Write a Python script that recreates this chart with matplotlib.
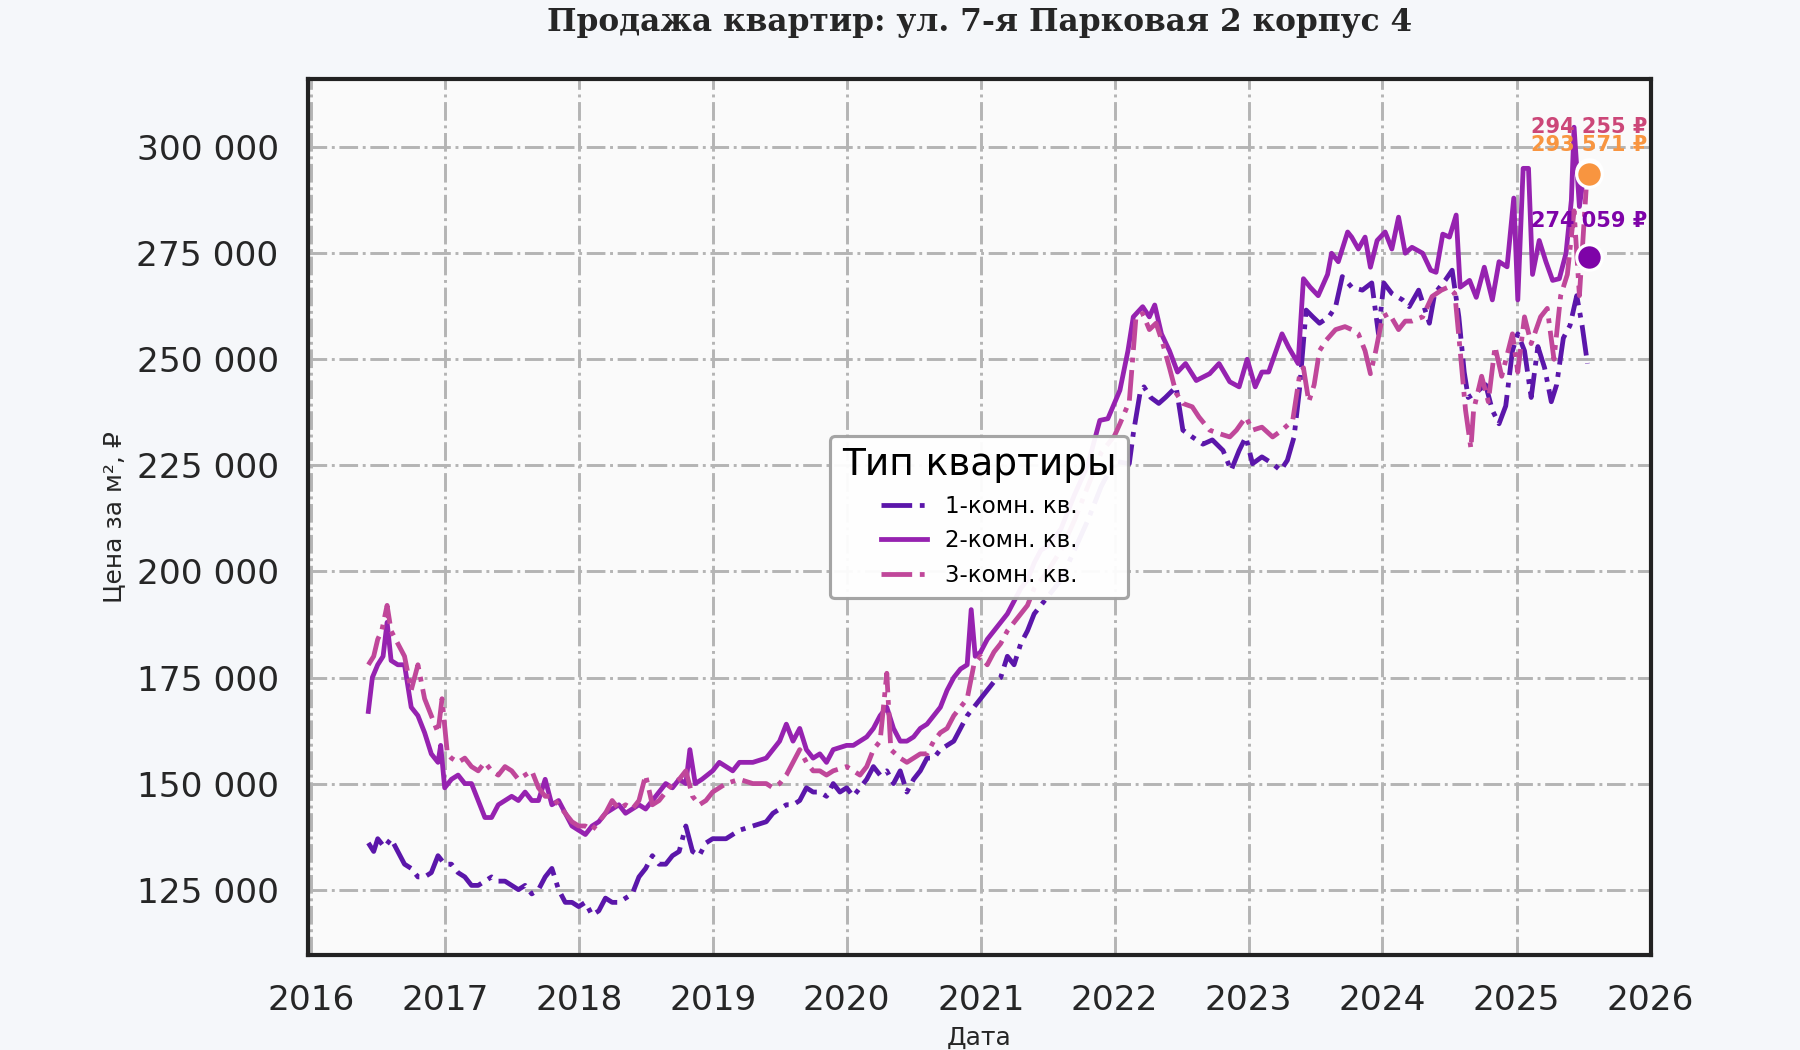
import matplotlib
matplotlib.use("Agg")
import matplotlib.pyplot as plt
import matplotlib.dates as mdates
import matplotlib.ticker as mticker
import pandas as pd
import numpy as np

plt.rcParams['font.family'] = ['DejaVu Sans']

# ---------------- data (decimal year, price in thousand RUB) ----------------
t1 = [2016.43, 2016.47, 2016.50, 2016.55, 2016.60, 2016.65, 2016.70, 2016.75, 2016.80, 2016.85,
      2016.90, 2016.95, 2017.00, 2017.05, 2017.10, 2017.15, 2017.20, 2017.25, 2017.30, 2017.35,
      2017.40, 2017.45, 2017.50, 2017.55, 2017.60, 2017.65, 2017.70, 2017.75, 2017.80, 2017.85,
      2017.90, 2017.95, 2018.00, 2018.05, 2018.10, 2018.15, 2018.20, 2018.25, 2018.30, 2018.35,
      2018.40, 2018.45, 2018.50, 2018.55, 2018.60, 2018.65, 2018.70, 2018.75, 2018.80, 2018.85,
      2018.90, 2018.95, 2019.00, 2019.10, 2019.20, 2019.30, 2019.40, 2019.45, 2019.50, 2019.55,
      2019.60, 2019.65, 2019.70, 2019.75, 2019.80, 2019.85, 2019.90, 2019.95, 2020.00, 2020.05,
      2020.10, 2020.15, 2020.20, 2020.25, 2020.30, 2020.35, 2020.40, 2020.45, 2020.50, 2020.55,
      2020.60, 2020.65, 2020.70, 2020.75, 2020.80, 2020.85, 2020.90, 2020.95, 2021.00, 2021.05,
      2021.10, 2021.15, 2021.20, 2021.25, 2021.30, 2021.35, 2021.40, 2021.45, 2021.50, 2021.60,
      2021.70, 2021.80, 2021.90, 2022.00, 2022.11, 2022.14, 2022.19, 2022.22, 2022.27, 2022.33,
      2022.38, 2022.46, 2022.51, 2022.58, 2022.66, 2022.73, 2022.81, 2022.87, 2022.93, 2022.98,
      2023.03, 2023.10, 2023.18, 2023.24, 2023.29, 2023.34, 2023.38, 2023.43, 2023.48, 2023.53,
      2023.60, 2023.65, 2023.70, 2023.77, 2023.85, 2023.92, 2023.97, 2024.01, 2024.07, 2024.15,
      2024.20, 2024.27, 2024.35, 2024.39, 2024.47, 2024.52, 2024.57, 2024.61, 2024.64, 2024.69,
      2024.77, 2024.82, 2024.87, 2024.92, 2024.97, 2025.01, 2025.06, 2025.11, 2025.16, 2025.21,
      2025.26, 2025.30, 2025.35, 2025.40, 2025.45, 2025.49, 2025.53]
v1 = [136, 134, 137, 135, 137, 134, 131, 130, 128, 128,
      129, 133, 131, 131, 129, 128, 126, 126, 127, 128,
      127, 127, 126, 125, 126, 124, 125, 128, 130, 125,
      122, 122, 121, 122, 119, 120, 123, 122, 122, 123,
      124, 128, 130, 133, 131, 131, 133, 134, 140, 134,
      133, 136, 137, 137, 139, 140, 141, 143, 144, 145,
      145, 146, 149, 148, 148, 147, 150, 148, 149, 147,
      149, 151, 154, 152, 153, 150, 153, 148, 151, 153,
      156, 156, 158, 159, 160, 163, 166, 168, 170, 172,
      174, 175, 180, 178, 183, 186, 190, 192, 194, 198,
      205, 212, 220, 226, 225.4, 232.5, 242, 243.5, 241, 239.6,
      241, 243.5, 233.3, 231.7, 230, 231, 228.5, 223.8, 228.5, 231.7,
      225.4, 227, 225.4, 223.8, 226.2, 231.7, 242.7, 261.6, 260, 258.5,
      260, 262.4, 269.5, 267, 266.3, 268, 256, 268, 265.5, 264,
      262.4, 266.3, 258.5, 265.5, 268.7, 271, 260, 247, 241, 242,
      244, 238, 234.8, 239, 252, 256, 252, 241, 253, 248,
      240, 244, 255, 258, 265, 258, 249]

t2 = [2016.43, 2016.46, 2016.50, 2016.54, 2016.57, 2016.60, 2016.65, 2016.70, 2016.75, 2016.80,
      2016.85, 2016.90, 2016.95, 2016.97, 2017.00, 2017.05, 2017.10, 2017.15, 2017.20, 2017.25,
      2017.30, 2017.35, 2017.40, 2017.45, 2017.50, 2017.55, 2017.60, 2017.65, 2017.70, 2017.75,
      2017.80, 2017.85, 2017.90, 2017.95, 2018.00, 2018.05, 2018.10, 2018.15, 2018.20, 2018.25,
      2018.30, 2018.35, 2018.40, 2018.45, 2018.50, 2018.55, 2018.60, 2018.65, 2018.70, 2018.75,
      2018.80, 2018.83, 2018.87, 2018.92, 2019.00, 2019.05, 2019.10, 2019.15, 2019.20, 2019.30,
      2019.40, 2019.45, 2019.50, 2019.55, 2019.60, 2019.65, 2019.70, 2019.75, 2019.80, 2019.85,
      2019.90, 2020.00, 2020.05, 2020.10, 2020.15, 2020.20, 2020.25, 2020.30, 2020.35, 2020.40,
      2020.45, 2020.50, 2020.55, 2020.60, 2020.65, 2020.70, 2020.75, 2020.80, 2020.85, 2020.90,
      2020.93, 2020.96, 2021.00, 2021.05, 2021.10, 2021.15, 2021.20, 2021.25, 2021.30, 2021.35,
      2021.40, 2021.45, 2021.50, 2021.60, 2021.70, 2021.80, 2021.89, 2021.95, 2022.04, 2022.10,
      2022.14, 2022.21, 2022.26, 2022.30, 2022.35, 2022.41, 2022.47, 2022.53, 2022.61, 2022.71,
      2022.78, 2022.86, 2022.93, 2022.99, 2023.05, 2023.10, 2023.15, 2023.25, 2023.30, 2023.37,
      2023.41, 2023.46, 2023.52, 2023.59, 2023.62, 2023.67, 2023.74, 2023.77, 2023.82, 2023.87,
      2023.91, 2023.96, 2024.02, 2024.07, 2024.12, 2024.17, 2024.22, 2024.30, 2024.36, 2024.40,
      2024.45, 2024.50, 2024.55, 2024.58, 2024.65, 2024.70, 2024.76, 2024.82, 2024.87, 2024.93,
      2024.98, 2025.01, 2025.05, 2025.09, 2025.12, 2025.17, 2025.22, 2025.27, 2025.32, 2025.37,
      2025.41, 2025.43, 2025.47, 2025.51]
v2 = [167, 175, 178, 180, 188, 179, 178, 178, 168, 166,
      162, 157, 155, 159, 149, 151, 152, 150, 150, 146,
      142, 142, 145, 146, 147, 146, 148, 146, 146, 151,
      145, 146, 143, 140, 139, 138, 140, 141, 143, 144,
      145, 143, 144, 145, 144, 146, 148, 150, 149, 151,
      150, 158, 150, 151, 153, 155, 154, 153, 155, 155,
      156, 158, 160, 164, 160, 163, 158, 156, 157, 155,
      158, 159, 159, 160, 161, 163, 166, 168, 163, 160,
      160, 161, 163, 164, 166, 168, 172, 175, 177, 178,
      191, 180, 181, 184, 186, 188, 190, 193, 196, 198,
      202, 205, 206, 210, 218, 225, 235.6, 236, 242.7, 252,
      260, 262.4, 260, 262.8, 256, 252, 247, 249, 245, 246.6,
      249, 244.7, 243.5, 250, 243.5, 247, 247, 256, 252.8, 249,
      269, 267, 265, 270, 275, 273, 280, 278.8, 276, 278.8,
      271.7, 278, 280, 276, 283.5, 275, 276.4, 275, 271, 270.5,
      279.5, 278.8, 284, 267, 268.6, 264.6, 271.7, 264, 273, 271.8,
      288, 264, 295, 295, 270, 278, 273, 268.6, 269, 275,
      287.5, 304.7, 286, 295]

t3 = [2016.43, 2016.47, 2016.50, 2016.53, 2016.57, 2016.60, 2016.65, 2016.70, 2016.75, 2016.80,
      2016.85, 2016.90, 2016.95, 2016.98, 2017.02, 2017.05, 2017.10, 2017.15, 2017.20, 2017.25,
      2017.30, 2017.35, 2017.40, 2017.45, 2017.50, 2017.55, 2017.60, 2017.65, 2017.70, 2017.75,
      2017.80, 2017.85, 2017.90, 2017.95, 2018.00, 2018.05, 2018.10, 2018.15, 2018.20, 2018.25,
      2018.30, 2018.35, 2018.40, 2018.45, 2018.50, 2018.55, 2018.60, 2018.65, 2018.70, 2018.75,
      2018.80, 2018.85, 2018.90, 2018.95, 2019.00, 2019.05, 2019.10, 2019.20, 2019.30, 2019.40,
      2019.45, 2019.50, 2019.55, 2019.60, 2019.65, 2019.70, 2019.75, 2019.80, 2019.85, 2019.90,
      2020.00, 2020.05, 2020.10, 2020.15, 2020.20, 2020.25, 2020.30, 2020.33, 2020.40, 2020.45,
      2020.50, 2020.55, 2020.60, 2020.65, 2020.70, 2020.75, 2020.80, 2020.85, 2020.90, 2020.95,
      2021.00, 2021.05, 2021.10, 2021.15, 2021.20, 2021.25, 2021.30, 2021.35, 2021.40, 2021.45,
      2021.50, 2021.60, 2021.70, 2021.80, 2021.90, 2022.00, 2022.04, 2022.11, 2022.16, 2022.21,
      2022.26, 2022.31, 2022.36, 2022.41, 2022.46, 2022.51, 2022.58, 2022.63, 2022.71, 2022.78,
      2022.86, 2022.91, 2022.98, 2023.03, 2023.10, 2023.18, 2023.25, 2023.33, 2023.38, 2023.41,
      2023.45, 2023.49, 2023.53, 2023.58, 2023.65, 2023.72, 2023.77, 2023.82, 2023.87, 2023.91,
      2023.95, 2024.00, 2024.05, 2024.12, 2024.17, 2024.22, 2024.30, 2024.37, 2024.44, 2024.49,
      2024.54, 2024.58, 2024.62, 2024.66, 2024.68, 2024.74, 2024.79, 2024.84, 2024.89, 2024.97,
      2025.01, 2025.06, 2025.11, 2025.18, 2025.23, 2025.28, 2025.33, 2025.38, 2025.43, 2025.47,
      2025.52]
v3 = [178, 180, 184, 186, 192, 186, 183, 180, 172, 178,
      170, 166, 162, 170, 157, 156, 155, 156, 154, 153,
      155, 153, 152, 154, 153, 151, 152, 153, 149, 147,
      147, 145, 143, 141, 140, 140, 139, 141, 143, 146,
      144, 145, 144, 146, 152, 145, 146, 148, 150, 151,
      153, 147, 145, 146, 148, 149, 150, 151, 150, 150,
      149, 150, 152, 155, 158, 155, 153, 153, 152, 153,
      154, 153, 152, 154, 158, 160, 176, 158, 156, 155,
      156, 157, 157, 160, 162, 163, 166, 168, 170, 178,
      180, 178, 181, 183, 186, 188, 190, 192, 196, 198,
      200, 205, 212, 220, 228, 232, 234.8, 240, 260, 260.8,
      257, 258.5, 253.7, 248, 242, 239.6, 238.8, 236.4, 233.3, 232.5,
      231.7, 233.3, 236.4, 233.3, 234, 231.7, 233.3, 235.6, 246, 248,
      240, 244, 252, 254.5, 257, 257.7, 257, 256, 252, 246.6,
      252, 260, 260.8, 257, 259, 259, 260, 264.8, 266.3, 267,
      265.5, 252, 238, 229, 238, 246, 240, 253, 246, 256,
      247, 260, 253.7, 260, 262, 250, 265, 270, 285, 265,
      290]

types = ["1-комн. кв.", "2-комн. кв.", "3-комн. кв."]
line_colors = ["#5b16aa", "#9622b0", "#c0479a"]
line_styles = ["-.", "-", "-."]

last_date = 2025.54
last_values = [274059, 294255, 293571]
last_colors = ["#7e03a8", "#cc4778", "#f89540"]
label_offsets = [17.5, 21.5, 14.0]


def to_dates(years):
    base = pd.Timestamp("2016-01-01")
    return [base + pd.Timedelta(days=(y - 2016.0) * 365.25) for y in years]


fig = plt.figure(figsize=(12, 7), dpi=150, facecolor="#f5f7fa")
ax = fig.add_axes([0.171, 0.0905, 0.746, 0.834])
ax.set_facecolor("#fafafa")

series = [(t1, v1), (t2, v2), (t3, v3)]
for (t, v), lab, c, ls in zip(series, types, line_colors, line_styles):
    ax.plot(to_dates(t), np.array(v) * 1000, color=c, linestyle=ls, lw=2.3,
            label=lab, zorder=3)

ld = to_dates([last_date])[0]
for val, c, off in zip(last_values, last_colors, label_offsets):
    ax.scatter([ld], [val], s=150, color=c, edgecolor="white", linewidth=1.5, zorder=5)
    ax.annotate(f"{val:,.0f} ₽".replace(",", " "), (ld, val), xytext=(0, off),
                textcoords="offset points", ha="center", va="center",
                fontsize=10, fontweight="bold", color=c, zorder=6)

ax.set_xlim(pd.Timestamp("2015-12-24"), pd.Timestamp("2026-01-01"))
ax.set_ylim(109600, 316000)
ax.xaxis.set_major_locator(mdates.YearLocator())
ax.xaxis.set_major_formatter(mdates.DateFormatter("%Y"))
ax.yaxis.set_major_locator(mticker.MultipleLocator(25000))
ax.yaxis.set_major_formatter(mticker.FuncFormatter(lambda x, p: f"{x:,.0f}".replace(",", " ")))
ax.tick_params(axis="both", length=0, pad=14, labelsize=16.5, labelcolor="#262626")

ax.grid(True, linestyle="-.", color="#b4b4b4", lw=1.4, zorder=0)
for s in ax.spines.values():
    s.set_color("#222222")
    s.set_linewidth(2.0)

ax.set_xlabel("Дата", fontsize=12, color="#262626", labelpad=4)
ax.set_ylabel("Цена за м², ₽", fontsize=12, color="#262626", labelpad=5)

fig.text(0.5442, 1 - 23 / 1050, "Продажа квартир: ул. 7-я Парковая 2 корпус 4",
         ha="center", va="center", fontsize=15, fontweight="bold",
         family="DejaVu Serif", color="#262626")

leg = ax.legend(title="Тип квартиры", loc="center", fontsize=11, title_fontsize=18,
                frameon=True, fancybox=True, framealpha=0.95, edgecolor="#a0a0a0",
                facecolor="white", borderpad=0.5, handlelength=2.0)
leg.get_frame().set_linewidth(1.5)
leg.set_zorder(10)

fig.savefig("out.png", dpi=150, facecolor=fig.get_facecolor())
